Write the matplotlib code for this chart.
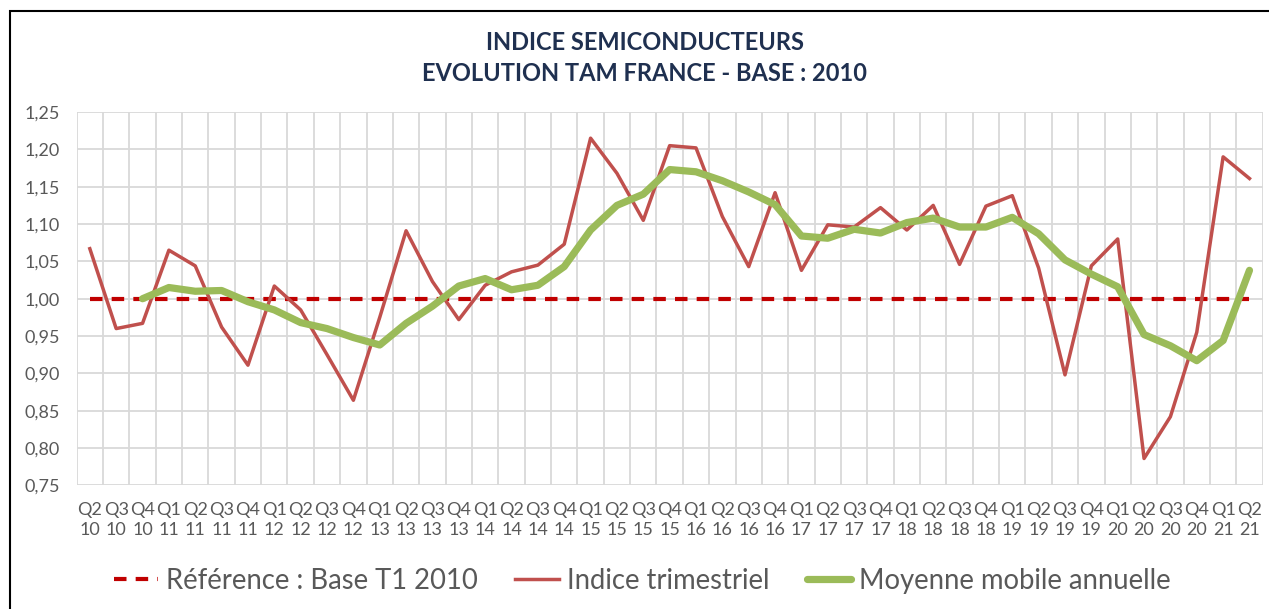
import matplotlib
matplotlib.use("Agg")
import matplotlib.pyplot as plt
from matplotlib.patches import Rectangle
from matplotlib.ticker import FuncFormatter, MultipleLocator

# trimestres Q2 2010 -> Q2 2021
quarters = ["Q2", "Q3", "Q4"] + ["Q1", "Q2", "Q3", "Q4"] * 10 + ["Q1", "Q2"]
years = ["10"] * 3 + [str(y) for y in range(11, 21) for _ in range(4)] + ["21"] * 2
tick_labels = [q + "\n" + y for q, y in zip(quarters, years)]

# indice trimestriel
indice = [1.067, 0.960, 0.967, 1.065, 1.044, 0.962, 0.911, 1.017, 0.985, 0.925,
          0.864, 0.975, 1.091, 1.023, 0.972, 1.018, 1.036, 1.045, 1.073, 1.215,
          1.168, 1.105, 1.205, 1.202, 1.110, 1.043, 1.142, 1.038, 1.099, 1.096,
          1.122, 1.092, 1.125, 1.046, 1.124, 1.138, 1.041, 0.898, 1.044, 1.080,
          0.786, 0.842, 0.955, 1.190, 1.161]

# moyenne mobile annuelle (commence a Q4 10)
moyenne = [None, None, 1.000, 1.015, 1.010, 1.011, 0.996, 0.985, 0.968, 0.960,
           0.948, 0.938, 0.967, 0.990, 1.017, 1.027, 1.012, 1.018, 1.043, 1.092,
           1.125, 1.140, 1.173, 1.170, 1.158, 1.143, 1.126, 1.084, 1.081, 1.093,
           1.088, 1.102, 1.108, 1.096, 1.096, 1.109, 1.087, 1.052, 1.033, 1.016,
           0.952, 0.937, 0.917, 0.944, 1.038]

reference = [1.0] * len(indice)

plt.rcParams['font.family'] = ['Lato', 'DejaVu Sans']

fig = plt.figure(figsize=(12.69, 6.09), dpi=100)
ax = fig.add_axes([0.0604, 0.203, 0.9346, 0.613])

x = list(range(len(indice)))
xm = [i for i in x if moyenne[i] is not None]
ym = [moyenne[i] for i in xm]

ax.plot(x, reference, color="#C00000", lw=3, dashes=(3, 2.2),
        label="Référence : Base T1 2010", zorder=3)
ax.plot(x, indice, color="#C0504D", lw=2.5, label="Indice trimestriel", zorder=4)
ax.plot(xm, ym, color="#9BBB59", lw=5.2, label="Moyenne mobile annuelle",
        solid_capstyle="round", zorder=5)

ax.set_xlim(-0.5, len(indice) - 0.5)
ax.set_ylim(0.75, 1.25)
ax.yaxis.set_major_locator(MultipleLocator(0.05))
ax.yaxis.set_major_formatter(FuncFormatter(lambda v, p: f"{v:.2f}".replace(".", ",")))
ax.set_xticks(x)
ax.set_xticklabels(tick_labels, linespacing=1.3)
ax.set_xticks([i - 0.5 for i in range(len(indice) + 1)], minor=True)

ax.grid(True, which="major", axis="y", color="#D9D9D9", lw=1.3)
ax.grid(True, which="minor", axis="x", color="#D9D9D9", lw=1.3)
ax.set_axisbelow(True)
for s in ax.spines.values():
    s.set_visible(False)
ax.tick_params(axis="both", which="both", length=0, colors="#595959", labelsize=13)
ax.tick_params(axis="x", pad=12)
ax.tick_params(axis="y", pad=12)

fig.text(0.508, 0.905, "INDICE SEMICONDUCTEURS\nEVOLUTION TAM FRANCE - BASE : 2010",
         ha="center", va="center", fontsize=17, fontweight="bold",
         color="#1F3050", linespacing=1.45)

ax.legend(loc="center", bbox_to_anchor=(0.477, -0.255), ncol=3, frameon=False,
          fontsize=19.8, labelcolor="#595959", handlelength=1.6,
          columnspacing=1.35, handletextpad=0.3)

# cadre (gauche et haut)
fig.add_artist(Rectangle((10 / 1269, -0.1), 1.2, 1 - 11 / 609 + 0.1,
                         transform=fig.transFigure, fill=False,
                         edgecolor="black", lw=1.5))

plt.savefig("out.png", dpi=100)
